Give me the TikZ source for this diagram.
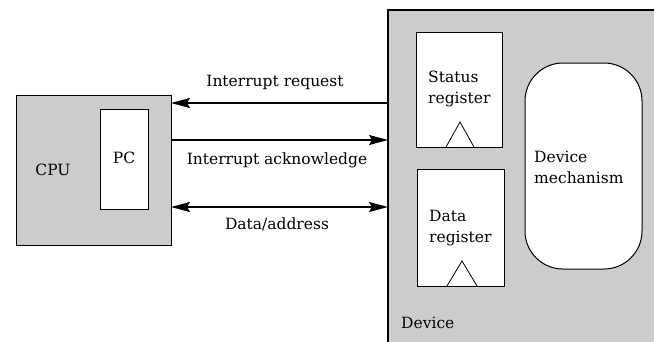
\documentclass[tikz,border=0pt]{standalone}
\usepackage{fontspec}
\setmainfont{DejaVu Serif}
\usetikzlibrary{arrows.meta}
\definecolor{boxgray}{RGB}{204,204,204}
\begin{document}
\begin{tikzpicture}[x=1pt,y=-1pt,
  lbl/.style={font=\fontsize{15.5}{21}\selectfont, inner sep=0pt},
  reg/.style={draw=black, line width=1pt, fill=white},
  tip/.tip={Stealth[length=19pt,width=10pt,inset=3pt]},
  conn/.style={line width=1.2pt, -tip},
  conn2/.style={line width=1.2pt, tip-tip}]
\useasboundingbox (0,0) rectangle (654,341);
\clip (0,0) rectangle (654,341);
% CPU
\draw[fill=boxgray, line width=1pt] (16,95) rectangle (171,245);
\coordinate (cpuR1) at (171,103);
\coordinate (cpuR2) at (171,140);
\coordinate (cpuR3) at (171,207);
\draw[reg] (100,109) rectangle (148,209);
\node[lbl] (cpu) at (53,170) {CPU};
\node[lbl] (pc) at (124,158) {PC};
% Device
\draw[fill=boxgray, line width=1.2pt] (388,10) rectangle (670,360);
\coordinate (devL1) at (388,103);
\coordinate (devL2) at (388,140);
\coordinate (devL3) at (388,207);
% status register
\draw[reg] (416,32) rectangle (502,147);
\draw[line width=0.8pt] (446,147) -- (460,122) -- (474,147);
\node[lbl, align=left, anchor=west] (status) at (428,89) {Status\\register};
% data register
\draw[reg] (417,169) rectangle (504,286);
\draw[line width=0.8pt] (447,286) -- (462,261) -- (477,286);
\node[lbl, align=left, anchor=west] (data) at (429,228) {Data\\register};
% device mechanism
\draw[reg, rounded corners=38pt] (525,63) rectangle (642,269);
\node[lbl, align=left, anchor=west] (mech) at (534,167) {Device\\mechanism};
\node[lbl, anchor=west] (dev) at (401,323) {Device};
% connectors
\draw[conn] (devL1) -- (cpuR1);
\draw[conn] (cpuR2) -- (devL2);
\draw[conn2] (cpuR3) -- (devL3);
\node[lbl] (ir) at (275,82) {Interrupt request};
\node[lbl] (ia) at (277,160) {Interrupt acknowledge};
\node[lbl] (da) at (277,224) {Data/address};
\end{tikzpicture}
\end{document}
